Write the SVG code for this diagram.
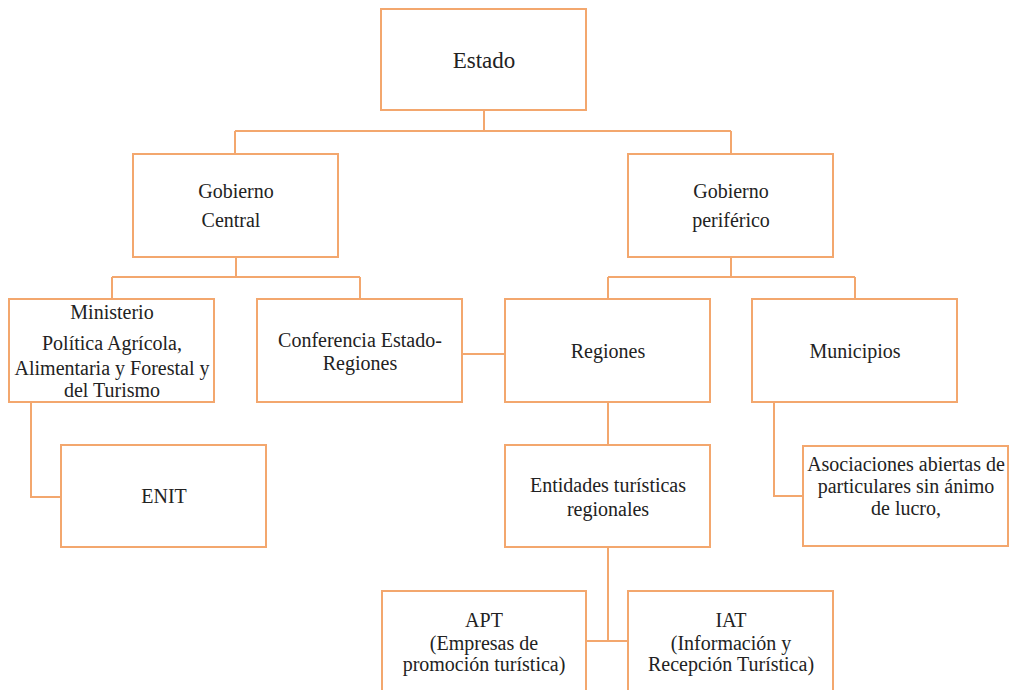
<svg xmlns="http://www.w3.org/2000/svg" width="1009" height="690" viewBox="0 0 1009 690">
<style>
.box{fill:#fff;stroke:#F3A76E;stroke-width:2}
.ln{fill:none;stroke:#F3A76E;stroke-width:2}
text{font-family:"Liberation Serif","Times New Roman",serif;font-size:20px;fill:#222;text-anchor:middle}
</style>
<rect width="1009" height="690" fill="#fff"/>
<g id="connectors">
<path class="ln" d="M484 110V131M235 131H731M235 131V154M731 131V154"/>
<path class="ln" d="M236 257V277M112 277H360M112 277V299M360 277V299"/>
<path class="ln" d="M731 257V277M608 277H855M608 277V299M855 277V299"/>
<path class="ln" d="M462 354H505" stroke-width="1"/>
<path class="ln" d="M31 402V497H61"/>
<path class="ln" d="M608 402V445"/>
<path class="ln" d="M774 402V496H803"/>
<path class="ln" d="M608 547V641M586 641H628"/>
</g>
<g id="estado"><rect class="box" x="381" y="9" width="205" height="101"/><text x="484" y="68" style="font-size:23px">Estado</text></g>
<g id="gobierno-central"><rect class="box" x="133" y="154" width="205" height="103"/><text x="236" y="198">Gobierno</text><text x="231" y="227">Central</text></g>
<g id="gobierno-periferico"><rect class="box" x="628" y="154" width="205" height="103"/><text x="731" y="198">Gobierno</text><text x="731" y="227">periférico</text></g>
<g id="ministerio"><rect class="box" x="9" y="299" width="205" height="103"/><text x="112" y="319">Ministerio</text><text x="112" y="350">Política Agrícola,</text><text x="112" y="375">Alimentaria y Forestal y</text><text x="112" y="397">del Turismo</text></g>
<g id="conferencia"><rect class="box" x="257" y="299" width="205" height="103"/><text x="360" y="347">Conferencia Estado-</text><text x="360" y="370">Regiones</text></g>
<g id="regiones"><rect class="box" x="505" y="299" width="205" height="103"/><text x="608" y="358">Regiones</text></g>
<g id="municipios"><rect class="box" x="752" y="299" width="205" height="103"/><text x="855" y="358">Municipios</text></g>
<g id="enit"><rect class="box" x="61" y="445" width="205" height="102"/><text x="164" y="503">ENIT</text></g>
<g id="entidades"><rect class="box" x="505" y="445" width="205" height="102"/><text x="608" y="492">Entidades turísticas</text><text x="608" y="516">regionales</text></g>
<g id="asociaciones"><rect class="box" x="803" y="446" width="205" height="100"/><text x="906" y="471">Asociaciones abiertas de</text><text x="906" y="493">particulares sin ánimo</text><text x="906" y="515">de lucro,</text></g>
<g id="apt"><rect class="box" x="382" y="591" width="204" height="110"/><text x="484" y="627">APT</text><text x="484" y="650">(Empresas de</text><text x="484" y="671">promoción turística)</text></g>
<g id="iat"><rect class="box" x="628" y="591" width="205" height="110"/><text x="731" y="627">IAT</text><text x="731" y="650">(Información y</text><text x="731" y="671">Recepción Turística)</text></g>
</svg>
